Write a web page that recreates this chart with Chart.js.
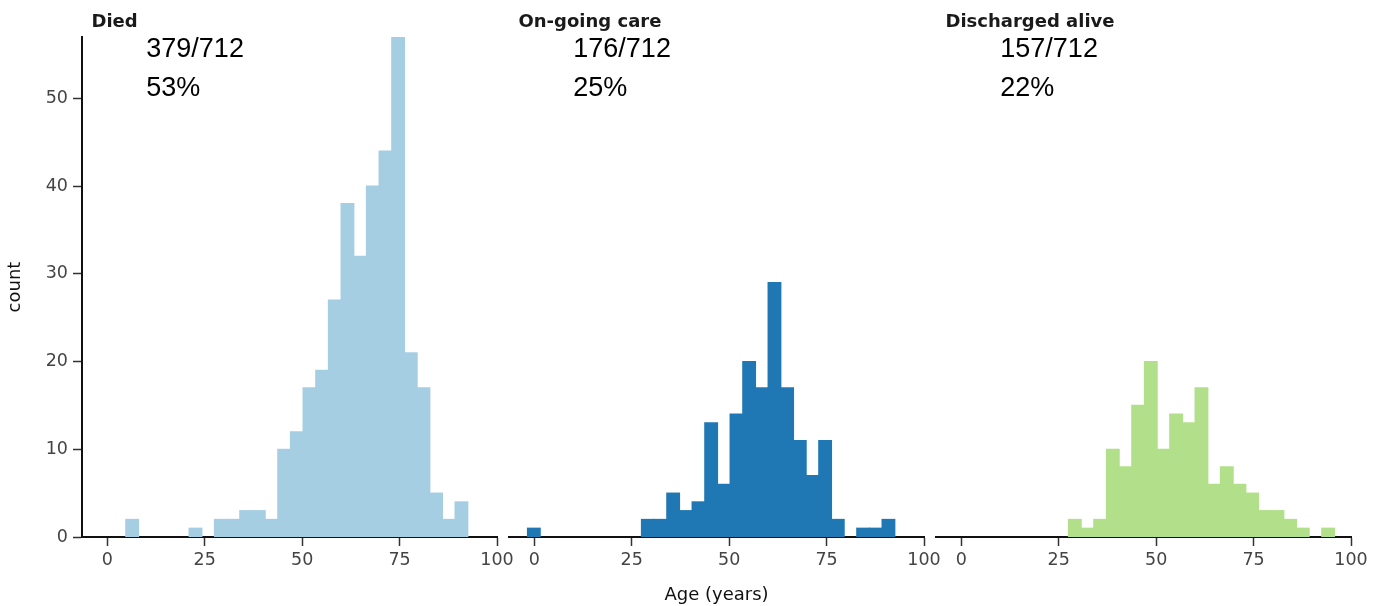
<!DOCTYPE html>
<html>
<head>
<meta charset="utf-8">
<title>Age by outcome</title>
<script src="https://cdn.jsdelivr.net/npm/chart.js@4"></script>
<style>
  body { margin: 0; background: #fff; }
  #wrap { position: relative; width: 1382px; height: 606px; }
  canvas { position: absolute; top: 0; }
</style>
</head>
<body>
<div id="wrap">
  <canvas id="died" width="530" height="606" style="left:0px"></canvas>
  <canvas id="ongoing" width="470" height="606" style="left:480px"></canvas>
  <canvas id="discharged" width="475" height="606" style="left:907px"></canvas>
</div>
<script>
// histogram bins, width 3.25 years
const binCenters = [-0.125, 3.125, 6.375, 9.625, 12.875, 16.125, 19.375, 22.625, 25.875, 29.125,
  32.375, 35.625, 38.875, 42.125, 45.375, 48.625, 51.875, 55.125, 58.375, 61.625,
  64.875, 68.125, 71.375, 74.625, 77.875, 81.125, 84.375, 87.625, 90.875, 94.125];

const diedCounts = [0, 0, 2, 0, 0, 0, 0, 1, 0, 2,
  2, 3, 3, 2, 10, 12, 17, 19, 27, 38,
  32, 40, 44, 57, 21, 17, 5, 2, 4, 0];
const ongoingCounts = [1, 0, 0, 0, 0, 0, 0, 0, 0, 2,
  2, 5, 3, 4, 13, 6, 14, 20, 17, 29,
  17, 11, 7, 11, 2, 0, 1, 1, 2, 0];
const dischargedCounts = [0, 0, 0, 0, 0, 0, 0, 0, 0, 2,
  1, 2, 10, 8, 15, 20, 10, 14, 13, 17,
  6, 8, 6, 5, 3, 3, 2, 1, 0, 1];

const panelTitles = ['Died', 'On-going care', 'Discharged alive'];
const panelFractions = ['379/712', '176/712', '157/712'];
const panelPercents = ['53%', '25%', '22%'];
const panelColors = ['#a6cee3', '#1f78b4', '#b2df8a'];

const xTicks = [0, 25, 50, 75, 100];
const yTicks = [0, 10, 20, 30, 40, 50];

const tickFont = { family: 'DejaVu Sans', size: 17.5 };

// titles and the count / percent text in each panel
const panelText = {
  id: 'panelText',
  afterDraw(chart, args, opts) {
    const { ctx, chartArea, scales } = chart;
    ctx.save();
    ctx.textAlign = 'left';
    ctx.textBaseline = 'alphabetic';
    ctx.fillStyle = '#1a1a1a';
    ctx.font = 'bold 18px "DejaVu Sans"';
    ctx.fillText(opts.title, chartArea.left + 9.5, 27);
    ctx.fillStyle = '#000';
    ctx.font = '27px "Liberation Sans"';
    const x = scales.x.getPixelForValue(10);
    ctx.fillText(opts.fraction, x, scales.y.getPixelForValue(54.7));
    ctx.fillText(opts.percent, x, scales.y.getPixelForValue(50.3));
    ctx.restore();
  }
};

function buildConfig(i, counts, padding, showY, showXTitle) {
  const points = binCenters.map(function(c, k) {
    return { x: c, y: counts[k] };
  });

  return {
    type: 'bar',
    data: {
      datasets: [{
        data: points,
        // empty bins stay empty (no hairline on the axis)
        backgroundColor: function(context) {
          const v = context.raw ? context.raw.y : 0;
          return v > 0 ? panelColors[i] : 'rgba(0,0,0,0)';
        },
        borderWidth: 0,
        inflateAmount: 0.6,
        barPercentage: 1,
        categoryPercentage: 1
      }]
    },
    options: {
      responsive: false,
      animation: false,
      layout: { padding: padding },
      plugins: {
        legend: { display: false },
        tooltip: { enabled: false },
        panelText: {
          title: panelTitles[i],
          fraction: panelFractions[i],
          percent: panelPercents[i]
        }
      },
      scales: {
        x: {
          type: 'linear',
          min: -6.5,
          max: 100,
          offset: false,
          grid: {
            offset: false,
            drawOnChartArea: false,
            drawTicks: true,
            tickLength: 9,
            tickColor: '#333',
            tickWidth: 1.5
          },
          border: { display: true, color: '#111', width: 2 },
          ticks: {
            autoSkip: false,
            maxRotation: 0,
            padding: 4,
            color: '#444',
            font: tickFont
          },
          title: {
            display: showXTitle,
            text: 'Age (years)',
            color: '#111',
            font: { family: 'DejaVu Sans', size: 18 },
            padding: { top: 0, bottom: 0 }
          },
          afterBuildTicks: function(scale) {
            scale.ticks = xTicks.map(function(v) { return { value: v }; });
          },
          afterFit: function(scale) {
            scale.height = 69;
            scale.paddingLeft = 0;
            scale.paddingRight = 0;
          }
        },
        y: {
          display: showY,
          min: 0,
          max: 57,
          grid: {
            drawOnChartArea: false,
            drawTicks: true,
            tickLength: 9,
            tickColor: '#333',
            tickWidth: 1.5
          },
          border: { display: true, color: '#111', width: 2 },
          ticks: {
            padding: 5,
            color: '#444',
            font: tickFont
          },
          title: {
            display: true,
            text: 'count',
            color: '#111',
            font: { family: 'DejaVu Sans', size: 18 },
            padding: { top: 5, bottom: 0 }
          },
          afterBuildTicks: function(scale) {
            scale.ticks = yTicks.map(function(v) { return { value: v }; });
          },
          afterFit: function(scale) {
            scale.width = showY ? 82 : 0;
            scale.paddingTop = 0;
            scale.paddingBottom = 0;
          }
        }
      }
    },
    plugins: [panelText]
  };
}

new Chart(document.getElementById('died'),
  buildConfig(0, diedCounts, { left: 0, top: 37, right: 33, bottom: 0 }, true, false));
new Chart(document.getElementById('ongoing'),
  buildConfig(1, ongoingCounts, { left: 29, top: 37, right: 26, bottom: 0 }, false, true));
new Chart(document.getElementById('discharged'),
  buildConfig(2, dischargedCounts, { left: 29, top: 37, right: 31, bottom: 0 }, false, false));
</script>
</body>
</html>
